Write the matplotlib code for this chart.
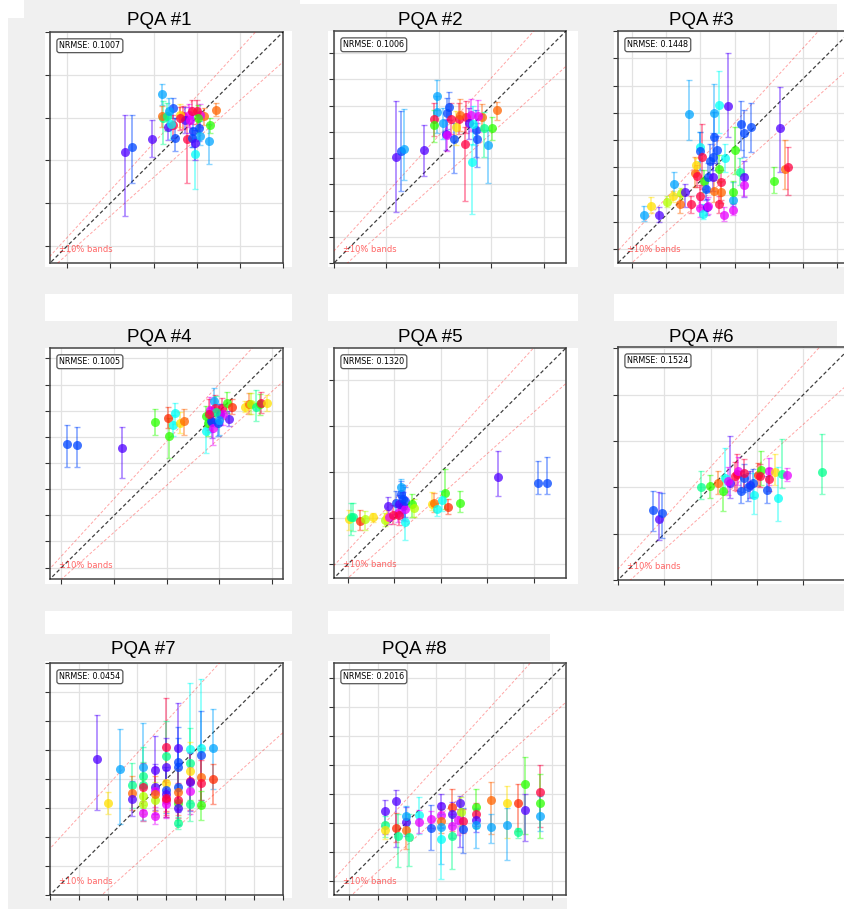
import numpy as np
import matplotlib.pyplot as plt
from matplotlib.patches import Rectangle

W, H = 844, 909

titles = ['PQA #1', 'PQA #2', 'PQA #3', 'PQA #4', 'PQA #5', 'PQA #6', 'PQA #7', 'PQA #8']
nrmse = [0.1007, 0.1006, 0.1448, 0.1005, 0.1320, 0.1524, 0.0454, 0.2016]

# axis limits (same for x and y) and tick positions per panel
lims = [(1.6, 7.0), (2.3, 6.72), (0.9, 2.6), (2.0, 6.42),
        (2.7, 7.7), (2.4, 7.43), (0.8, 1.2), (5.5, 13.5)]
xtick_start = [2.0, 2.3, 1.0, 2.21, 3.0, 2.4, 0.8, 6.0]
xtick_step = [1.0, 1.0, 0.25, 1.0, 1.0, 1.0, 0.05, 1.0]
ytick_start = [2.0, 2.3, 1.0, 2.22, 3.0, 2.4, 0.8, 6.0]
ytick_step = [1.0, 0.5, 0.2, 0.5, 1.0, 1.0, 0.05, 1.0]

# colour codes -> hue on the hsv colormap
hue_of = {'r': 0.97, 'e': 0.03, 'o': 0.07, 'y': 0.15, 'n': 0.22, 'g': 0.31,
          't': 0.43, 'c': 0.50, 'l': 0.57, 'b': 0.63, 'p': 0.73, 'm': 0.83}

# ---- PQA #1 ----
p1_x = [3.34, 3.51, 3.97, 4.20, 4.44, 4.23, 4.19, 4.34, 4.50, 4.46, 4.77, 4.68, 4.81, 4.89, 4.96, 4.92, 5.06,
        5.08, 5.31, 5.29, 5.45, 5.17, 5.08, 5.00, 5.04, 4.61, 4.31, 4.35, 4.73, 4.89, 4.85, 4.61, 4.40, 4.95]
p1_y = [4.20, 4.31, 4.51, 5.56, 5.23, 5.00, 5.03, 4.78, 4.53, 4.82, 4.49, 5.03, 5.07, 5.15, 4.14, 4.68, 4.76,
        4.57, 4.82, 4.45, 5.17, 5.03, 5.07, 5.15, 5.00, 5.07, 5.03, 5.15, 4.95, 4.53, 4.95, 5.00, 4.85, 4.40]
p1_lo = [1.49, 0.85, 0.44, 0.26, 0.23, 0.62, 0.25, 0.30, 0.31, 0.30, 1.02, 0.30, 0.30, 0.30, 0.81, 0.37, 0.30,
         0.20, 0.18, 0.54, 0.14, 0.20, 0.30, 0.30, 0.35, 0.30, 0.35, 0.30, 0.30, 0.23, 0.30, 0.30, 0.35, 0.40]
p1_hi = [0.85, 0.76, 0.43, 0.23, 0.23, 0.39, 0.25, 0.30, 0.46, 0.25, 0.54, 0.25, 0.25, 0.25, 0.39, 0.39, 0.30,
         0.35, 0.17, 0.39, 0.17, 0.20, 0.25, 0.25, 0.30, 0.25, 0.30, 0.30, 0.30, 0.23, 0.30, 0.25, 0.30, 0.30]
p1_col = "p b p l b t o p b r r r m r c b b l g l o o m r g y t l p b m r c p".split()

# ---- PQA #2 ----
p2_x = [3.48, 3.58, 3.64, 4.01, 4.27, 4.27, 4.21, 4.21, 4.50, 4.46, 4.43, 4.45, 4.37, 4.59, 4.79, 4.93,
        4.69, 4.81, 4.91, 4.88, 5.00, 5.03, 5.24, 5.31, 5.40, 5.12, 5.15, 4.53, 4.70, 4.95, 4.62, 5.05]
p2_y = [4.31, 4.44, 4.48, 4.45, 5.48, 5.18, 5.04, 4.93, 5.28, 5.15, 4.76, 4.74, 4.96, 4.66, 4.57, 4.22,
        5.05, 5.08, 5.12, 4.96, 4.84, 4.67, 4.55, 4.88, 5.21, 5.08, 4.88, 5.05, 5.12, 4.95, 4.90, 5.10]
p2_lo = [1.03, 0.76, 0.59, 0.49, 0.27, 0.40, 0.32, 0.32, 0.25, 0.30, 0.30, 0.30, 0.30, 0.65, 1.08, 0.99,
         0.30, 0.30, 0.30, 0.30, 0.52, 0.54, 0.72, 0.24, 0.19, 0.25, 0.56, 0.30, 0.30, 0.40, 0.35, 0.30]
p2_hi = [1.08, 0.76, 0.75, 0.48, 0.31, 0.30, 0.30, 0.28, 0.27, 0.30, 0.27, 0.30, 0.30, 0.30, 0.33, 0.35,
         0.30, 0.30, 0.30, 0.30, 0.37, 0.30, 0.28, 0.20, 0.16, 0.25, 0.30, 0.30, 0.30, 0.35, 0.30, 0.30]
p2_col = "p b l p l l r g b b p m l b r c r r m p b b l g o o t r o c y m".split()

# ---- PQA #3 ----
p3_x = [1.09, 1.14, 1.20, 1.26, 1.30, 1.31, 1.35, 1.36, 1.39, 1.42, 1.43, 1.46, 1.48, 1.47, 1.50, 1.50, 1.51, 1.50,
        1.50, 1.52, 1.53, 1.54, 1.55, 1.56, 1.56, 1.57, 1.59, 1.60, 1.60, 1.64, 1.62, 1.59, 1.60, 1.65, 1.65, 1.64,
        1.64, 1.67, 1.68, 1.70, 1.75, 1.74, 1.74, 1.74, 1.80, 1.82, 1.79, 1.82, 1.82, 1.87, 2.04, 2.08, 2.12, 2.14]
p3_y = [1.25, 1.32, 1.25, 1.35, 1.39, 1.48, 1.33, 1.41, 1.42, 1.99, 1.33, 1.56, 1.54, 1.62, 1.75, 1.72, 1.68, 1.39,
        1.30, 1.26, 1.50, 1.44, 1.31, 1.32, 1.53, 1.65, 1.68, 1.82, 2.00, 2.06, 1.73, 1.53, 1.43, 1.49, 1.42, 1.33,
        1.59, 1.25, 1.67, 2.05, 1.73, 1.36, 1.42, 1.29, 1.92, 1.85, 1.57, 1.53, 1.47, 1.90, 1.50, 1.89, 1.59, 1.60]
p3_lo = [0.04, 0.05, 0.05, 0.04, 0.04, 0.08, 0.06, 0.04, 0.11, 0.19, 0.06, 0.10, 0.08, 0.05, 0.10, 0.14, 0.24, 0.08,
         0.06, 0.04, 0.08, 0.08, 0.06, 0.06, 0.10, 0.10, 0.10, 0.17, 0.18, 0.21, 0.10, 0.10, 0.08, 0.13, 0.08, 0.06,
         0.10, 0.04, 0.10, 0.23, 0.18, 0.04, 0.08, 0.04, 0.19, 0.17, 0.10, 0.15, 0.08, 0.19, 0.09, 0.32, 0.15, 0.20]
p3_hi = [0.07, 0.06, 0.06, 0.04, 0.04, 0.09, 0.06, 0.04, 0.06, 0.25, 0.06, 0.12, 0.08, 0.05, 0.11, 0.14, 0.24, 0.08,
         0.06, 0.07, 0.08, 0.08, 0.06, 0.06, 0.10, 0.12, 0.17, 0.19, 0.21, 0.25, 0.10, 0.10, 0.08, 0.09, 0.08, 0.06,
         0.10, 0.06, 0.10, 0.39, 0.17, 0.13, 0.08, 0.04, 0.17, 0.17, 0.10, 0.12, 0.08, 0.17, 0.10, 0.30, 0.21, 0.15]
p3_col = ("l y p n y l o n p l r o r y c b r r m c g b p m b b b b l c "
          "b p o r o r g m c p g l g m b b t p m b g p o r").split()

# ---- PQA #4 ----
p4_x = [2.32, 2.51, 3.37, 3.99, 4.25, 4.23, 4.37, 4.34, 4.47, 4.54, 4.96, 4.96, 4.99, 5.12, 5.07, 5.05, 5.09, 5.13,
        5.04, 5.23, 5.26, 5.35, 5.45, 5.39, 5.29, 5.18, 5.15, 5.70, 5.78, 5.81, 5.91, 5.99, 6.01, 6.11, 5.02, 5.20]
p4_y = [4.58, 4.56, 4.50, 5.01, 4.73, 5.08, 5.18, 4.94, 4.99, 5.03, 5.11, 4.84, 4.99, 5.41, 5.00, 5.02, 4.89, 5.28,
        5.24, 5.15, 5.27, 5.37, 5.30, 5.07, 5.15, 4.99, 5.20, 5.30, 5.35, 5.35, 5.30, 5.34, 5.37, 5.37, 5.15, 5.05]
p4_lo = [0.44, 0.42, 0.56, 0.25, 0.41, 0.19, 0.22, 0.20, 0.20, 0.28, 0.20, 0.42, 0.25, 0.27, 0.30, 0.20, 0.32, 0.25,
         0.25, 0.20, 0.20, 0.20, 0.15, 0.15, 0.20, 0.25, 0.30, 0.10, 0.20, 0.20, 0.27, 0.20, 0.20, 0.15, 0.30, 0.30]
p4_hi = [0.37, 0.35, 0.41, 0.25, 0.35, 0.22, 0.19, 0.20, 0.20, 0.23, 0.20, 0.30, 0.25, 0.24, 0.30, 0.25, 0.38, 0.25,
         0.25, 0.20, 0.20, 0.20, 0.15, 0.15, 0.20, 0.25, 0.30, 0.10, 0.20, 0.20, 0.32, 0.20, 0.20, 0.15, 0.30, 0.30]
p4_col = ("b b p g g e c c y o g c g l p b m r m p r g e p m b t y o n "
          "t g r y r l").split()

# ---- PQA #5 ----
p5_x = [3.02, 3.07, 3.11, 3.26, 3.36, 3.55, 3.79, 3.86, 3.84, 3.89, 4.04, 4.11, 4.14, 4.18, 4.18, 4.07, 4.11,
        4.22, 4.22, 4.14, 3.98, 4.24, 4.39, 4.43, 4.82, 4.86, 5.10, 5.02, 4.93, 5.15, 5.42, 6.24, 7.09, 7.30]
p5_y = [3.99, 4.02, 4.02, 3.95, 3.99, 4.02, 3.97, 4.26, 4.02, 4.02, 4.34, 4.31, 4.52, 4.42, 4.27, 4.11, 4.06,
        4.20, 3.92, 4.67, 4.08, 4.37, 4.31, 4.22, 4.31, 4.34, 4.54, 4.40, 4.19, 4.25, 4.34, 4.90, 4.76, 4.76]
p5_lo = [0.25, 0.39, 0.30, 0.21, 0.25, 0.10, 0.15, 0.24, 0.15, 0.15, 0.25, 0.20, 0.29, 0.30, 0.30, 0.20, 0.20,
         0.25, 0.39, 0.21, 0.20, 0.35, 0.29, 0.20, 0.14, 0.20, 0.34, 0.24, 0.15, 0.16, 0.21, 0.41, 0.24, 0.24]
p5_hi = [0.18, 0.32, 0.30, 0.23, 0.16, 0.10, 0.15, 0.19, 0.15, 0.15, 0.25, 0.20, 0.29, 0.30, 0.30, 0.20, 0.20,
         0.25, 0.29, 0.18, 0.20, 0.30, 0.21, 0.20, 0.25, 0.20, 0.52, 0.19, 0.15, 0.16, 0.25, 0.57, 0.48, 0.57]
p5_col = "y t t e n y n p y m b p b b p m r m c l r b g n y o g c c e g p b b".split()

# ---- PQA #6 ----
p6_x = [3.16, 3.29, 3.35, 4.20, 4.39, 4.55, 4.67, 4.70, 4.81, 4.78, 4.96, 5.06, 4.92, 4.99, 5.13, 5.24,
        5.31, 5.34, 5.21, 5.11, 5.42, 5.49, 5.46, 5.65, 5.67, 5.62, 5.79, 5.86, 5.95, 6.05, 6.81]
p6_y = [3.92, 3.72, 3.85, 4.41, 4.42, 4.50, 4.32, 4.60, 4.50, 4.53, 4.68, 4.33, 4.64, 4.75, 4.60, 4.46,
        4.50, 4.23, 4.40, 4.71, 4.67, 4.78, 4.65, 4.75, 4.57, 4.35, 4.73, 4.16, 4.69, 4.67, 4.73]
p6_lo = [0.47, 0.45, 0.54, 0.27, 0.25, 0.25, 0.43, 0.29, 0.32, 0.30, 0.36, 0.27, 0.30, 0.30, 0.30, 0.30,
         0.30, 0.40, 0.30, 0.30, 0.25, 0.32, 0.25, 0.29, 0.25, 0.29, 0.27, 0.49, 0.31, 0.14, 0.47]
p6_hi = [0.41, 0.58, 0.43, 0.34, 0.25, 0.25, 0.32, 0.65, 1.00, 0.30, 0.43, 0.42, 0.30, 0.30, 0.30, 0.30,
         0.30, 0.48, 0.30, 0.30, 0.25, 0.41, 0.25, 0.29, 0.25, 0.29, 0.39, 0.68, 0.75, 0.14, 0.83]
p6_col = "b p b t g o g c p m r b r m b p b c b r e g r m r b y c t m t".split()

# ---- PQA #7 ----
p7_x = [0.88, 0.90, 0.92, 0.94, 0.94, 0.94, 0.96, 0.96, 0.96, 0.96, 0.96, 0.96, 0.96, 0.98, 0.98, 0.98, 0.98,
        0.98, 0.98, 1.00, 1.00, 1.00, 1.00, 1.00, 1.00, 1.00, 1.00, 1.00, 1.02, 1.02, 1.02, 1.02, 1.02, 1.02,
        1.02, 1.02, 1.02, 1.04, 1.04, 1.04, 1.04, 1.04, 1.04, 1.04, 1.06, 1.06, 1.06, 1.06, 1.06, 1.08, 1.08]
p7_y = [1.034, 0.958, 1.017, 0.990, 0.976, 0.966, 1.020, 1.006, 0.990, 0.987, 0.970, 0.957, 0.942, 1.016, 0.986,
        0.980, 0.964, 0.937, 0.975, 1.055, 1.040, 1.020, 0.993, 0.981, 0.975, 0.964, 0.957, 0.968, 1.053, 1.029,
        1.020, 0.987, 0.978, 0.959, 0.963, 0.950, 0.924, 1.052, 1.028, 1.013, 0.997, 0.995, 0.980, 0.957, 1.053,
        1.041, 1.003, 0.993, 0.956, 1.053, 1.000]
p7_lo = [0.088, 0.018, 0.094, 0.040, 0.030, 0.030, 0.090, 0.050, 0.040, 0.040, 0.030, 0.030, 0.015, 0.076, 0.040,
         0.040, 0.030, 0.015, 0.030, 0.110, 0.080, 0.060, 0.050, 0.040, 0.040, 0.030, 0.025, 0.030, 0.110, 0.080,
         0.060, 0.040, 0.040, 0.030, 0.030, 0.030, 0.011, 0.089, 0.070, 0.050, 0.050, 0.050, 0.040, 0.030, 0.091,
         0.078, 0.040, 0.040, 0.027, 0.070, 0.043]
p7_hi = [0.077, 0.019, 0.069, 0.038, 0.030, 0.030, 0.077, 0.050, 0.040, 0.040, 0.030, 0.030, 0.020, 0.059, 0.040,
         0.040, 0.030, 0.015, 0.030, 0.084, 0.060, 0.050, 0.050, 0.040, 0.040, 0.030, 0.025, 0.030, 0.078, 0.060,
         0.050, 0.040, 0.040, 0.030, 0.030, 0.030, 0.010, 0.113, 0.060, 0.050, 0.050, 0.050, 0.040, 0.030, 0.120,
         0.076, 0.050, 0.040, 0.024, 0.067, 0.026]
p7_col = ("p y l t o p l t t r n n m p p m n m o r t p y b p r m r p b "
          "b b o g r p t c t y r p m t c b o r g l e").split()

# ---- PQA #8 ----
p8_x = [7.27, 7.27, 7.27, 7.64, 7.64, 7.70, 7.98, 7.98, 7.98, 8.07, 8.44, 8.44, 8.84, 8.84, 9.18, 9.18, 9.18,
        9.18, 9.18, 9.56, 9.56, 9.58, 9.58, 9.84, 9.87, 9.79, 9.96, 9.96, 10.38, 10.38, 10.38, 10.38, 10.92,
        10.92, 11.47, 11.47, 11.84, 11.84, 12.07, 12.07, 12.62, 12.62, 12.62]
p8_y = [8.39, 7.91, 7.73, 8.74, 7.82, 7.54, 8.03, 8.22, 7.73, 7.50, 8.25, 8.03, 7.82, 8.11, 8.57, 8.26, 8.05,
        7.86, 7.42, 8.53, 8.31, 7.88, 7.54, 8.66, 8.37, 8.07, 8.05, 7.77, 8.53, 8.28, 8.07, 7.90, 8.76, 7.85,
        8.68, 7.90, 8.66, 7.67, 9.33, 8.43, 9.05, 8.66, 8.22]
p8_lo = [0.80, 0.40, 0.30, 1.60, 0.50, 1.09, 0.50, 0.63, 0.65, 1.00, 0.65, 0.40, 0.78, 0.30, 0.75, 0.40, 0.40,
         1.29, 1.37, 0.82, 0.40, 0.40, 1.14, 1.52, 0.50, 0.50, 0.40, 0.82, 0.71, 0.40, 0.40, 0.77, 1.17, 0.54,
         1.20, 1.20, 0.95, 0.20, 1.74, 1.07, 1.22, 1.20, 0.51]
p8_hi = [0.37, 0.30, 0.30, 0.37, 0.50, 0.74, 0.50, 0.34, 0.43, 0.78, 0.63, 0.40, 0.80, 0.30, 0.40, 0.40, 0.40,
         0.42, 0.86, 0.61, 0.40, 0.40, 0.69, 0.25, 0.50, 0.40, 0.40, 0.74, 0.61, 0.40, 0.40, 0.61, 0.63, 0.43,
         0.57, 0.61, 0.67, 0.15, 0.93, 0.54, 0.95, 1.00, 0.69]
p8_col = ("p t y p e t p l o t c m b m p m o l c e p m t p n m r b g r "
          "p l o l y l e t g p r g l").split()

panels = [
    (p1_x, p1_y, p1_lo, p1_hi, p1_col),
    (p2_x, p2_y, p2_lo, p2_hi, p2_col),
    (p3_x, p3_y, p3_lo, p3_hi, p3_col),
    (p4_x, p4_y, p4_lo, p4_hi, p4_col),
    (p5_x, p5_y, p5_lo, p5_hi, p5_col),
    (p6_x, p6_y, p6_lo, p6_hi, p6_col),
    (p7_x, p7_y, p7_lo, p7_hi, p7_col),
    (p8_x, p8_y, p8_lo, p8_hi, p8_col),
]

# layout in screenshot pixels: (left, top, right, bottom)
ax_box = [(50, 32, 283, 263), (334, 31, 566, 263), (618, 31, 851, 263),
          (50, 348, 283, 579), (334, 348, 566, 578), (618, 347, 851, 580),
          (50, 663, 283, 895), (334, 663, 566, 895)]
white_box = [(45, 31, 292, 267), (328, 31, 578, 267), (614, 31, 844, 267),
             (45, 348, 292, 584), (328, 348, 578, 584), (614, 347, 844, 584),
             (45, 661, 292, 898), (328, 661, 567, 898),
             (0, 0, 8, 909), (0, 0, 24, 18), (300, 0, 844, 4), (837, 0, 844, 31),
             (45, 294, 292, 321), (328, 294, 578, 321), (614, 294, 844, 321), (837, 321, 844, 347),
             (45, 611, 292, 634), (328, 611, 844, 634), (550, 634, 844, 661), (567, 661, 844, 909)]
title_pos = [(159, 25), (430, 25), (701, 25), (159, 342), (430, 342), (701, 342), (143, 654), (414, 654)]


def fig_rect(l, t, r, b):
    return [l / W, 1 - b / H, (r - l) / W, (b - t) / H]


fig = plt.figure(figsize=(W / 100, H / 100), dpi=100, facecolor='#f0f0f0')

for box in white_box:
    x0, y0, w, h = fig_rect(*box)
    fig.add_artist(Rectangle((x0, y0), w, h, transform=fig.transFigure,
                             facecolor='white', edgecolor='none', zorder=-5))

for i, (px, py, plo, phi, pcol) in enumerate(panels):
    assert len(px) == len(py) == len(plo) == len(phi) == len(pcol), i
    ax = fig.add_axes(fig_rect(*ax_box[i]))
    ax.set_facecolor('white')
    lo, hi = lims[i]

    line_x = np.array([lo - 1, hi + 1])
    ax.plot(line_x, line_x, color='black', ls=(0, (3, 2)), lw=0.9, alpha=0.75, zorder=3)
    ax.plot(line_x, 1.1 * line_x, color='red', ls=(0, (3, 2)), lw=0.7, alpha=0.35, zorder=3)
    ax.plot(line_x, 0.9 * line_x, color='red', ls=(0, (3, 2)), lw=0.7, alpha=0.35, zorder=3)

    for xv, yv, el, eh, c in zip(px, py, plo, phi, pcol):
        col = plt.cm.hsv(hue_of[c])
        ax.errorbar(xv, yv, yerr=[[el], [eh]], fmt='none', ecolor=col, elinewidth=1.3,
                    capsize=2, capthick=1.0, alpha=0.45, zorder=4)
        ax.scatter(xv, yv, s=42, color=col, alpha=0.75, linewidths=0, zorder=5)

    ax.set_xlim(lo, hi)
    ax.set_ylim(lo, hi)
    ax.set_xticks(np.arange(xtick_start[i], hi + 1e-6, xtick_step[i]))
    ax.set_yticks(np.arange(ytick_start[i], hi + 1e-6, ytick_step[i]))
    ax.tick_params(labelbottom=False, labelleft=False, direction='out', length=3.5,
                   width=0.8, color='#333333')
    ax.grid(True, color='#e2e2e2', lw=0.9, zorder=0)
    ax.set_axisbelow(True)
    for sp in ax.spines.values():
        sp.set_color('#444444')
        sp.set_linewidth(1.1)

    ax.text(0.04, 0.96, f'NRMSE: {nrmse[i]:.4f}', transform=ax.transAxes, fontsize=5.8,
            va='top', ha='left', zorder=6,
            bbox=dict(boxstyle='round,pad=0.3', facecolor='white', edgecolor='#555555', lw=0.9))
    ax.text(0.04, 0.04, '±10% bands', transform=ax.transAxes, fontsize=6,
            color='red', alpha=0.6, va='bottom', ha='left', zorder=6)

    tx, ty = title_pos[i]
    fig.text(tx / W, 1 - ty / H, titles[i], ha='center', va='baseline',
             fontsize=13.5, family='Liberation Sans')

fig.savefig('out.png', dpi=100, facecolor=fig.get_facecolor())
